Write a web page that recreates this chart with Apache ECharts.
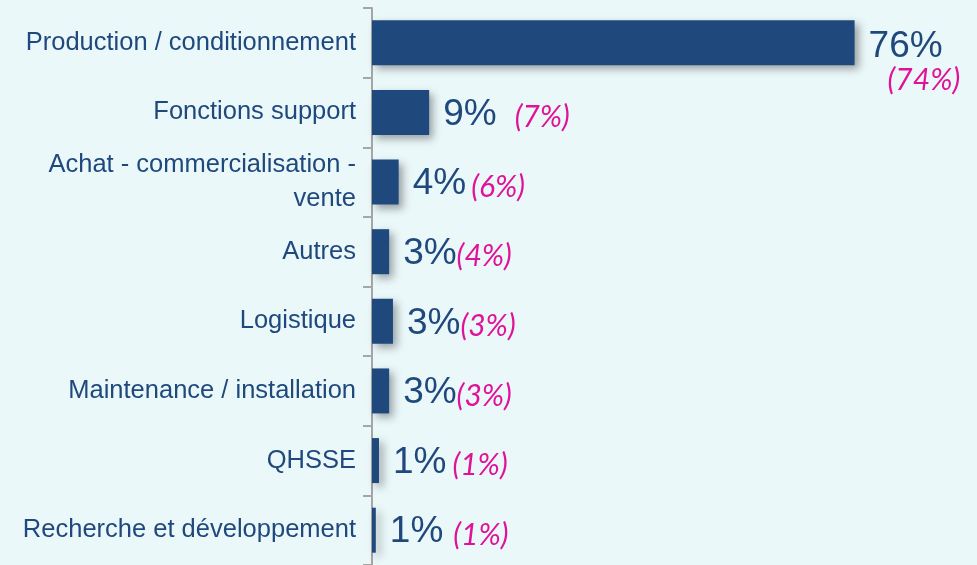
<!DOCTYPE html>
<html>
<head>
<meta charset="utf-8">
<script src="https://cdn.jsdelivr.net/npm/echarts@6/dist/echarts.min.js"></script>
<style>
  html, body { margin: 0; padding: 0; background: #ebf8fa; }
  #chart { width: 977px; height: 565px; }
</style>
</head>
<body>
<div id="chart"></div>
<script>
var categories = [
    'Production / conditionnement',
    'Fonctions support',
    'Achat - commercialisation -\nvente',
    'Autres',
    'Logistique',
    'Maintenance / installation',
    'QHSSE',
    'Recherche et développement'
];
// current share (%), bar length
var shares = [76, 9, 4.2, 2.7, 3.3, 2.7, 1.1, 0.6];
// previous share (%), shown in brackets
var previous = [74, 7, 6, 4, 3, 3, 1, 1];

function drawChart() {
    var myChart = echarts.init(document.getElementById('chart'));

    var gaps = [0, 18, 5, 0, 0, 0, 6, 10];

    var option = {
        backgroundColor: '#ebf8fa',
        animation: false,
        grid: {
            left: 372,
            top: 8,
            height: 560,
            width: 508
        },
        xAxis: {
            type: 'value',
            min: 0,
            max: 80,
            show: false,
            splitLine: { show: false }
        },
        yAxis: {
            type: 'category',
            inverse: true,
            data: categories,
            axisLine: {
                show: true,
                lineStyle: { color: '#a6a6a6', width: 2 }
            },
            axisTick: {
                show: true,
                length: 9,
                lineStyle: { color: '#a6a6a6', width: 2 }
            },
            axisLabel: {
                margin: 16,
                color: '#1f497d',
                fontFamily: 'Liberation Sans, Arial, sans-serif',
                fontSize: 25.5,
                lineHeight: 34,
                padding: [6, 0, 0, 0],
                align: 'right'
            }
        },
        series: [{
            type: 'bar',
            barWidth: 45,
            itemStyle: {
                color: '#1f497d',
                shadowColor: 'rgba(0, 0, 0, 0.35)',
                shadowBlur: 8,
                shadowOffsetX: 4,
                shadowOffsetY: 4
            },
            label: {
                show: true,
                position: 'right',
                distance: 14,
                rich: {
                    a: {
                        color: '#1f497d',
                        fontFamily: 'Liberation Sans, Arial, sans-serif',
                        fontSize: 37,
                        lineHeight: 40,
                        padding: [4, 0, 0, 0]
                    },
                    p: {
                        color: '#e0129a',
                        fontFamily: 'Lato, sans-serif',
                        fontStyle: 'italic',
                        fontSize: 30,
                        lineHeight: 40,
                        padding: [10, 0, 0, 0]
                    },
                    p0: {
                        color: '#e0129a',
                        fontFamily: 'Lato, sans-serif',
                        fontStyle: 'italic',
                        fontSize: 30,
                        lineHeight: 32,
                        padding: [0, 0, 0, 19]
                    }
                }
            },
            data: shares.map(function(v, i) {
                var cur = Math.round(v) + '%';
                var prev = '(' + previous[i] + '%)';
                if (i === 0) {
                    return {
                        value: v,
                        label: {
                            formatter: '{a|' + cur + '}\n{p0|' + prev + '}',
                            offset: [0, 18]
                        }
                    };
                }
                return {
                    value: v,
                    label: {
                        formatter: '{a|' + cur + '}{p|' + prev + '}',
                        rich: { p: { padding: [10, 0, 0, gaps[i]] } }
                    }
                };
            })
        }]
    };

    myChart.setOption(option);
}

drawChart();
</script>
</body>
</html>
